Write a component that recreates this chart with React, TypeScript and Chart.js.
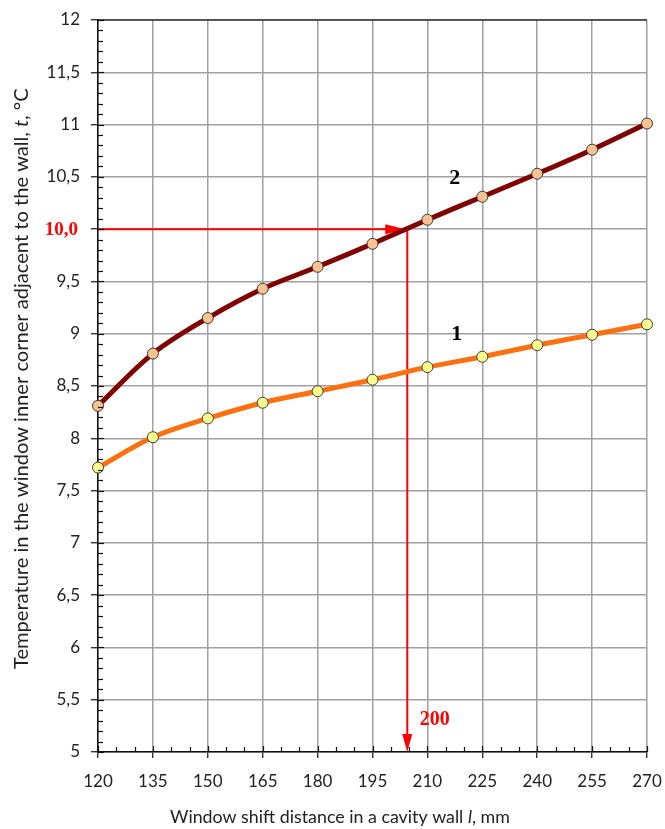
import React, { useEffect, useRef } from 'react';
import { Chart, registerables } from 'chart.js';
Chart.register(...registerables);

const xValues = [120, 135, 150, 165, 180, 195, 210, 225, 240, 255, 270];
const series1 = [7.72, 8.01, 8.19, 8.34, 8.45, 8.56, 8.68, 8.78, 8.89, 8.99, 9.09];
const series2 = [8.31, 8.81, 9.15, 9.43, 9.64, 9.86, 10.09, 10.31, 10.53, 10.76, 11.01];
const seriesNames = ['1', '2'];
const seriesLabelX = [218, 217.5];
const seriesLabelY = [8.99, 10.49];
const markerT = 10.0;
const markerL = 204.5;
const markerTLabel = '10,0';
const markerLLabel = '200';
const markerLLabelPos = [212, 5.31];
const xTitleParts = ['Window shift distance in a cavity wall ', 'l', ', mm'];
const yTitleParts = ['Temperature in the window inner corner adjacent to the wall, ', 't', ', °C'];

const fmtY = (v: number) => {
  if (Math.abs(v - markerT) < 1e-9) return '';
  return Number.isInteger(v) ? String(v) : v.toFixed(1).replace('.', ',');
};

function drawParts(ctx: CanvasRenderingContext2D, parts: string[], size: number, family: string) {
  const fonts = [`${size}px ${family}`, `italic ${size}px ${family}`, `${size}px ${family}`];
  let w = 0;
  parts.forEach((p, i) => { ctx.font = fonts[i]; w += ctx.measureText(p).width; });
  return { w, fonts };
}

function fitParts(ctx: CanvasRenderingContext2D, parts: string[], target: number, family: string) {
  const { w } = drawParts(ctx, parts, 100, family);
  return (100 * target) / w;
}

const decorPlugin = {
  id: 'decor',
  beforeDatasetsDraw(chart: any) {
    const { ctx, scales } = chart;
    const x = scales.x, y = scales.y;
    const red = '#ff0000';
    ctx.save();
    ctx.strokeStyle = red;
    ctx.fillStyle = red;
    ctx.lineWidth = 2;
    const yT = y.getPixelForValue(markerT);
    const xL = x.getPixelForValue(markerL);
    const x0 = x.left;
    ctx.beginPath();
    ctx.moveTo(x0, yT);
    ctx.lineTo(xL - 20, yT);
    ctx.stroke();
    ctx.beginPath();
    ctx.moveTo(xL - 2, yT);
    ctx.lineTo(xL - 22, yT - 5);
    ctx.lineTo(xL - 22, yT + 5);
    ctx.closePath();
    ctx.fill();
    const yB = y.bottom;
    ctx.beginPath();
    ctx.moveTo(xL, yT);
    ctx.lineTo(xL, yB - 16);
    ctx.stroke();
    ctx.beginPath();
    ctx.moveTo(xL, yB);
    ctx.lineTo(xL - 5, yB - 18);
    ctx.lineTo(xL + 5, yB - 18);
    ctx.closePath();
    ctx.fill();
    ctx.restore();
  },
  afterDraw(chart: any) {
    const { ctx, scales } = chart;
    const x = scales.x, y = scales.y;
    ctx.save();
    ctx.strokeStyle = '#333';
    ctx.lineWidth = 1.5;
    ctx.beginPath();
    ctx.moveTo(x.left, y.top);
    ctx.lineTo(x.right, y.top);
    ctx.stroke();
    ctx.strokeStyle = '#111';
    ctx.lineWidth = 1.2;
    for (let v = 5; v <= 12.0001; v += 0.1) {
      const py = Math.round(y.getPixelForValue(v)) + 0.5;
      const major = Math.abs(v * 2 - Math.round(v * 2)) < 1e-6;
      ctx.beginPath();
      ctx.moveTo(y.right, py);
      ctx.lineTo(y.right + (major ? 6 : 5), py);
      ctx.stroke();
    }
    for (let v = 120; v <= 270.0001; v += 5) {
      const px = Math.round(x.getPixelForValue(v)) + 0.5;
      const major = (v - 120) % 15 === 0;
      ctx.beginPath();
      ctx.moveTo(px, x.top);
      ctx.lineTo(px, x.top - (major ? 6 : 5));
      ctx.stroke();
    }
    ctx.fillStyle = '#ff0000';
    ctx.font = 'bold 19px "Liberation Serif"';
    ctx.textAlign = 'right';
    ctx.textBaseline = 'middle';
    ctx.fillText(markerTLabel, 78, y.getPixelForValue(markerT) + 1);
    ctx.textAlign = 'center';
    ctx.font = 'bold 20px "Liberation Serif"';
    ctx.fillText(markerLLabel, x.getPixelForValue(markerLLabelPos[0]), y.getPixelForValue(markerLLabelPos[1]));
    ctx.fillStyle = '#000';
    ctx.font = 'bold 22px "Liberation Serif"';
    seriesNames.forEach((n, i) => {
      ctx.fillText(n, x.getPixelForValue(seriesLabelX[i]), y.getPixelForValue(seriesLabelY[i]));
    });
    const fam = 'Lato';
    ctx.fillStyle = '#222';
    ctx.textAlign = 'left';
    ctx.textBaseline = 'alphabetic';
    {
      const size = fitParts(ctx, xTitleParts, 340, fam);
      const { fonts } = drawParts(ctx, xTitleParts, size, fam);
      let cx = 170;
      xTitleParts.forEach((p, i) => {
        ctx.font = fonts[i];
        ctx.fillText(p, cx, 823);
        cx += ctx.measureText(p).width;
      });
    }
    {
      const size = fitParts(ctx, yTitleParts, 581, fam);
      const { fonts } = drawParts(ctx, yTitleParts, size, fam);
      ctx.translate(28, 669);
      ctx.rotate(-Math.PI / 2);
      let cx = 0;
      yTitleParts.forEach((p, i) => {
        ctx.font = fonts[i];
        ctx.fillText(p, cx, 0);
        cx += ctx.measureText(p).width;
      });
    }
    ctx.restore();
  },
};

export default function App() {
  const ref = useRef<HTMLCanvasElement | null>(null);
  useEffect(() => {
    if (!ref.current) return;
    const tickFont = { family: 'Lato', size: 17 };
    const chart = new Chart(ref.current, {
      type: 'line',
      data: {
        datasets: [
          {
            label: seriesNames[1],
            data: xValues.map((v, i) => ({ x: v, y: series2[i] })),
            borderColor: '#800000',
            borderWidth: 5,
            pointRadius: 5.5,
            pointBackgroundColor: '#f9c38f',
            pointBorderColor: '#3a3a3a',
            pointBorderWidth: 1,
            tension: 0.35,
            clip: false as any,
          },
          {
            label: seriesNames[0],
            data: xValues.map((v, i) => ({ x: v, y: series1[i] })),
            borderColor: '#ff7010',
            borderWidth: 5,
            pointRadius: 5.5,
            pointBackgroundColor: '#ffff8c',
            pointBorderColor: '#3a3a3a',
            pointBorderWidth: 1,
            tension: 0.35,
            clip: false as any,
          },
        ],
      },
      options: {
        responsive: false,
        animation: false,
        layout: { padding: { top: 20, right: 18, left: 0, bottom: 0 } },
        plugins: { legend: { display: false }, tooltip: { enabled: false } },
        scales: {
          x: {
            type: 'linear',
            min: 120,
            max: 270,
            afterFit: (s: any) => { s.height = 77; s.paddingLeft = 0; s.paddingRight = 0; },
            ticks: { stepSize: 15, color: '#222', font: tickFont, padding: 13 },
            grid: { color: '#a0a0a0', lineWidth: 1.5, tickLength: 6, tickColor: '#111', tickWidth: 1.2 },
            border: { color: '#111', width: 1.5 },
          },
          y: {
            type: 'linear',
            min: 5,
            max: 12,
            afterFit: (s: any) => { s.width = 98; s.paddingTop = 0; s.paddingBottom = 0; },
            ticks: { stepSize: 0.5, color: '#222', font: tickFont, padding: 11, callback: (v: any) => fmtY(Number(v)) },
            grid: { color: '#a0a0a0', lineWidth: 1.5, tickLength: 7, tickColor: '#111', tickWidth: 1.2 },
            border: { color: '#111', width: 1.5 },
          },
        },
      },
      plugins: [decorPlugin],
    });
    return () => chart.destroy();
  }, []);
  return (
    <div style={{ position: 'absolute', left: 0, top: 0, width: 665, height: 829, background: '#fff' }}>
      <canvas ref={ref} width={665} height={829} style={{ width: 665, height: 829, display: 'block' }} />
    </div>
  );
}
